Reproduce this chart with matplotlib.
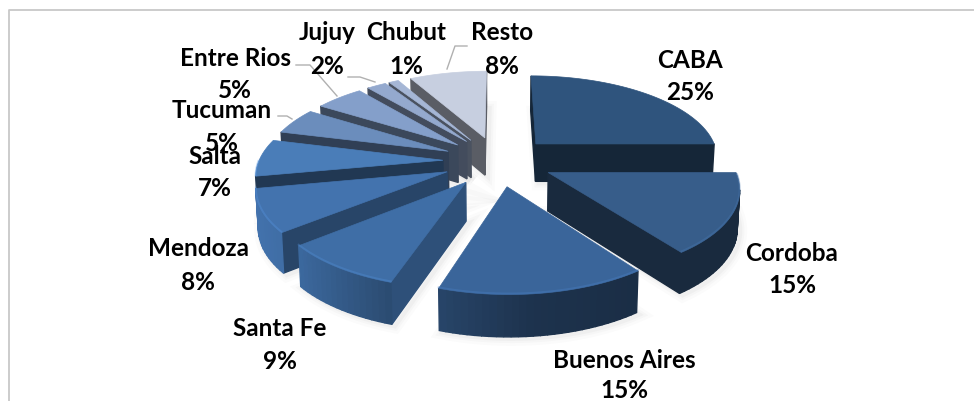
import numpy as np
import matplotlib
matplotlib.use('Agg')
import matplotlib.pyplot as plt
from matplotlib.patches import Polygon
from matplotlib.colors import to_rgb

labels = ['CABA', 'Cordoba', 'Buenos Aires', 'Santa Fe', 'Mendoza', 'Salta',
          'Tucuman', 'Entre Rios', 'Jujuy', 'Chubut', 'Resto']
values = [25, 15, 15, 9, 8, 7, 5, 5, 2, 1, 8]
colors = ['#2f547d', '#375d8a', '#3a659a', '#3f6ea6', '#4373ae', '#4a7db8',
          '#6b8dbc', '#849fca', '#94a9ce', '#a5b6d5', '#c7cfe0']

# where the labels sit, in pixels: centre x, name y, percent y
label_x = [690, 792, 624, 280, 198, 215, 222, 235, 327, 406, 502]
name_y = [59, 253, 360, 328, 248, 156, 110, 58, 32, 32, 32]
pct_y = [91, 285, 390, 361, 282, 188, 143, 89, 65, 65, 65]

leaders = [[(447, 70), (455, 47), (467, 47)],
           [(337, 97), (310, 66), (296, 66)],
           [(375, 83), (360, 78), (348, 78)],
           [(292, 120), (287, 117), (278, 117)]]

# pie projection
X0, Y0 = 498, 162
A, B = 184, 83
K = 0.15
EXPLODE = 0.3
DEPTH = 38


def project(u, v):
    w = 1 - K * v
    return X0 + A * u / w, Y0 + B * v / w


def lower(x, y, v):
    w = 1 - K * v
    return X0 + (x - X0) * 0.99, y + DEPTH / np.sqrt(w)


def shade(c, f):
    return tuple(min(1, ch * f) for ch in to_rgb(c))


fig = plt.figure(figsize=(9.74, 4.02), dpi=100)
ax = fig.add_axes([0, 0, 1, 1])
ax.set_xlim(0, 974)
ax.set_ylim(402, 0)
ax.axis('off')

# chart frame, only top and left are inside the picture
ax.plot([8.5, 8.5, 974], [402, 10.5, 10.5], color='#c8c8c8', lw=1.3)

edges = -90 + np.cumsum([0] + values) * 3.6
mids = (edges[:-1] + edges[1:]) / 2
order = np.argsort(np.sin(np.radians(mids)))

wedges = {}
for i in range(len(values)):
    m = np.radians(mids[i])
    cu, cv = EXPLODE * np.cos(m), EXPLODE * np.sin(m)
    th = np.radians(np.linspace(edges[i], edges[i + 1], max(4, values[i] * 2)))
    us = np.r_[cu, cu + np.cos(th)]
    vs = np.r_[cv, cv + np.sin(th)]
    xs, ys = project(us, vs)
    bx, by = lower(xs, ys, vs)
    wedges[i] = (us, vs, xs, ys, bx, by, th)

# soft shadow under the front wedges
for i in order:
    us, vs, xs, ys, bx, by, th = wedges[i]
    for lw, al in [(10, 0.03), (6, 0.04), (3, 0.05)]:
        ax.add_patch(Polygon(np.c_[bx + 3, by + 2], closed=True, fc='none', ec='#808080',
                             lw=lw, alpha=al, zorder=1))

z = 2
for i in order:
    us, vs, xs, ys, bx, by, th = wedges[i]
    n = len(xs)
    start = edges[i] % 360
    for a in range(n):
        b = (a + 1) % n
        if xs[b] >= xs[a]:
            continue
        quad = [(xs[a], ys[a]), (xs[b], ys[b]), (bx[b], by[b]), (bx[a], by[a])]
        if a == 0:
            f = np.interp(start, [108, 140, 169], [0.73, 0.6, 0.45])
        elif b == 0:
            f = 0.45
        else:
            dx = np.cos((th[a - 1] + th[b - 1]) / 2)
            f = np.interp(dx, [-1, -0.77, -0.31, 0.1, 0.59, 1], [1, 0.95, 0.68, 0.5, 0.45, 0.45])
        col = shade(colors[i], f)
        ax.add_patch(Polygon(quad, closed=True, fc=col, ec=col, lw=1, zorder=z))
    z += 1
    ax.add_patch(Polygon(np.c_[xs, ys], closed=True, fc=colors[i], ec=colors[i], lw=0.5, zorder=z))
    z += 1
    # light bevel along the front rim only
    front = np.sin(th) > 0
    if front.any():
        ax.plot(xs[1:][front], ys[1:][front] - 1, color=shade(colors[i], 1.25), lw=1.4,
                alpha=0.4, zorder=z)
    z += 1

for pts in leaders:
    p = np.array(pts)
    ax.plot(p[:, 0], p[:, 1], color='#b0b0b0', lw=1, zorder=z)
z += 1

for i in range(len(labels)):
    ax.text(label_x[i], name_y[i] + 8.5, labels[i], ha='center', va='baseline', family='Lato',
            weight='bold', fontsize=17.5, color='black', zorder=z)
    ax.text(label_x[i], pct_y[i] + 8.5, f'{values[i]}%', ha='center', va='baseline', family='Lato',
            weight='bold', fontsize=17.5, color='black', zorder=z)

fig.savefig('out.png', dpi=100)
